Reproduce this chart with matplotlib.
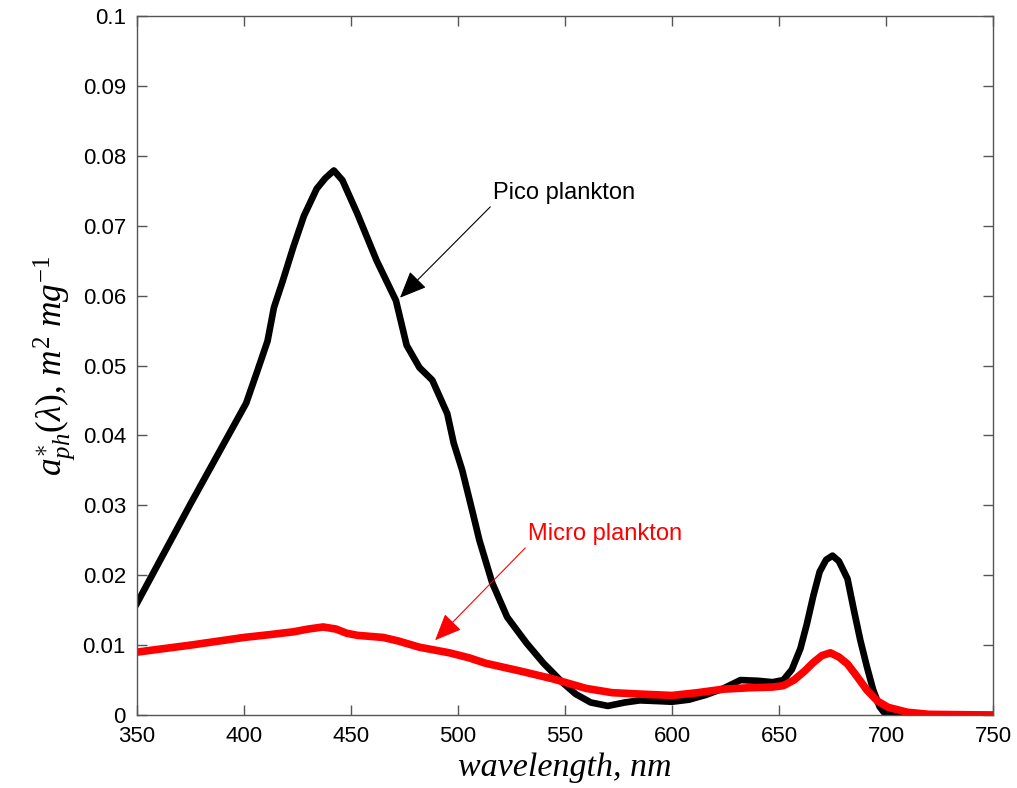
import matplotlib
matplotlib.use('Agg')
import matplotlib.pyplot as plt

# spectra
wl_pico = [350, 375, 401, 406, 411, 414, 418, 423, 428, 434, 438, 442, 446, 453, 462, 471, 476,
           482, 488, 495, 498, 502, 507, 510, 516, 523, 532, 540, 549, 555, 562, 570, 578, 585,
           593, 600, 608, 616, 624, 632, 640, 647, 652, 656, 660, 663, 666, 669, 672, 675, 678,
           682, 685, 688, 691, 694, 697, 699, 703, 710, 730, 750]
a_pico = [0.0160, 0.0302, 0.0446, 0.0490, 0.0535, 0.0583, 0.0620, 0.0669, 0.0714, 0.0753, 0.0768,
          0.0779, 0.0765, 0.0717, 0.0650, 0.0593, 0.0529, 0.0497, 0.0479, 0.0431, 0.0389, 0.0350,
          0.0288, 0.0250, 0.0189, 0.0140, 0.0103, 0.0074, 0.0046, 0.0030, 0.0018, 0.0013, 0.0018,
          0.0021, 0.0020, 0.0019, 0.0022, 0.0029, 0.0038, 0.0050, 0.0049, 0.0047, 0.0050, 0.0065,
          0.0095, 0.0130, 0.0170, 0.0205, 0.0222, 0.0228, 0.0220, 0.0195, 0.0150, 0.0107, 0.0070,
          0.0036, 0.0012, 0.0004, 0.0001, 0.0, 0.0, 0.0]

wl_micro = [350, 375, 400, 412, 423, 430, 437, 443, 448, 453, 465, 472, 482, 496, 505, 513, 529,
            544, 560, 572, 585, 600, 612, 624, 636, 647, 652, 657, 662, 666, 670, 674, 678, 682,
            686, 691, 696, 701, 710, 720, 750]
a_micro = [0.0090, 0.0100, 0.0111, 0.0115, 0.0119, 0.0123, 0.0126, 0.0123, 0.0117, 0.0114, 0.0111,
           0.0106, 0.0097, 0.0089, 0.0082, 0.0074, 0.0063, 0.0052, 0.0038, 0.0032, 0.0030, 0.0028,
           0.0032, 0.0037, 0.0039, 0.0040, 0.0042, 0.0050, 0.0063, 0.0075, 0.0085, 0.0089, 0.0083,
           0.0073, 0.0057, 0.0036, 0.0020, 0.0011, 0.0004, 0.0001, 0.0]

x_ticks = [350, 400, 450, 500, 550, 600, 650, 700, 750]
y_ticks = [0, 0.01, 0.02, 0.03, 0.04, 0.05, 0.06, 0.07, 0.08, 0.09, 0.1]
y_labels = ['0', '0.01', '0.02', '0.03', '0.04', '0.05', '0.06', '0.07', '0.08', '0.09', '0.1']

plt.rcParams['mathtext.fontset'] = 'custom'
plt.rcParams['mathtext.it'] = 'Liberation Serif:italic'
plt.rcParams['mathtext.rm'] = 'Liberation Serif'

fig = plt.figure(figsize=(10.17, 7.88), dpi=100)
ax = fig.add_axes([0.1347, 0.0926, 0.8417, 0.8871])

ax.plot(wl_pico, a_pico, color='black', linewidth=4.8, solid_joinstyle='round')
ax.plot(wl_micro, a_micro, color='red', linewidth=5.5, solid_joinstyle='round')

ax.set_xlim(350, 750)
ax.set_ylim(0, 0.1)
ax.set_xticks(x_ticks)
ax.set_yticks(y_ticks)
ax.set_yticklabels(y_labels)
ax.tick_params(direction='in', length=7, width=1, color='#555555', top=True, right=True,
               labelsize=16, pad=8)
for lab in ax.get_xticklabels() + ax.get_yticklabels():
    lab.set_family('Liberation Sans')
for s in ax.spines.values():
    s.set_color('#555555')
    s.set_linewidth(1)

ax.set_xlabel('wavelength, nm', family='Liberation Serif', style='italic', fontsize=24.5, labelpad=4)
ax.set_ylabel(r'$a^{\ast}_{ph}(\lambda),\, m^{2}\ mg^{-1}$', fontsize=25.5, labelpad=4)

# annotations with arrows, text sits just above the arrow tail
arrow_style = '-|>,head_length=0.7,head_width=0.3'
ax.annotate('Pico plankton', xy=(472.9, 0.0597), xytext=(516.4, 0.0731),
            fontsize=17, family='Liberation Sans', color='black', va='bottom', ha='left',
            arrowprops=dict(arrowstyle=arrow_style, color='black', lw=0.8, mutation_scale=24,
                            shrinkA=0, shrinkB=0, relpos=(0, 0)))
ax.annotate('Micro plankton', xy=(489.3, 0.0107), xytext=(532.7, 0.0243),
            fontsize=17, family='Liberation Sans', color='red', va='bottom', ha='left',
            arrowprops=dict(arrowstyle=arrow_style, color='red', lw=0.8, mutation_scale=24,
                            shrinkA=0, shrinkB=0, relpos=(0, 0)))

fig.savefig('out.png', dpi=100, facecolor='white')
